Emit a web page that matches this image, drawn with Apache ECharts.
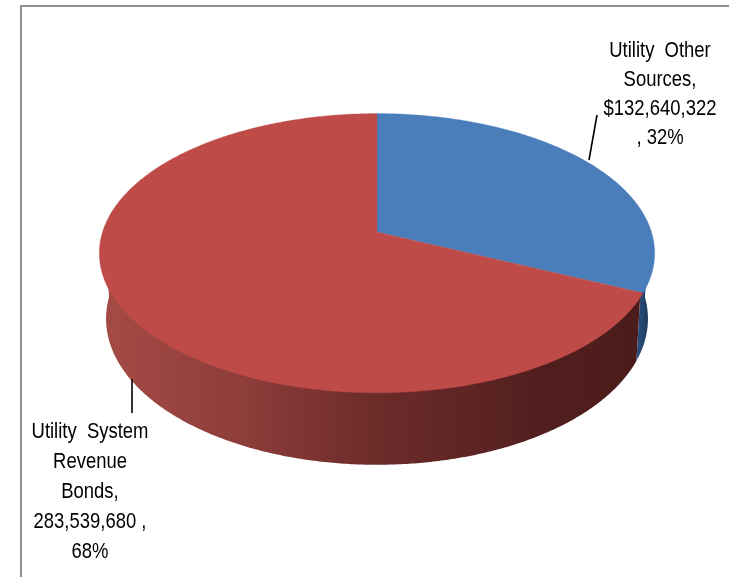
<!DOCTYPE html>
<html>
<head>
<meta charset="utf-8">
<title>Utility Funding Sources</title>
<script src="https://cdn.jsdelivr.net/npm/echarts@6/dist/echarts.min.js"></script>
<style>
  html, body { margin: 0; padding: 0; background: #ffffff; }
  #chart { width: 729px; height: 577px; }
</style>
</head>
<body>
<div id="chart"></div>
<script>
// Funding sources (slices run clockwise from 12 o'clock)
const categories = ['Utility Other Sources', 'Utility System Revenue Bonds'];
const values = [132640322, 283539680];

// Label text pieces per slice (name split where it wraps)
const nameLines = [['Utility  Other', 'Sources,'], ['Utility  System', 'Revenue', 'Bonds,']];
const valuePrefix = ['$', ''];

const topColors = ['#4A7EBB', '#BE4B48'];
const sideStops = [
  [{ offset: 0, color: '#2C5283' }, { offset: 1, color: '#1A324F' }],
  [{ offset: 0, color: '#A64B46' }, { offset: 0.27, color: '#8C3C39' }, { offset: 0.5, color: '#6C2C2A' },
   { offset: 0.8, color: '#521F1E' }, { offset: 1, color: '#4A1B1A' }]
];

// Label placement (text block centre/top, leader line ends)
const labelLayout = [
  { x: 660, y: 36, lineHeight: 29, leader: [[589, 160], [597, 115]] },
  { x: 90, y: 417, lineHeight: 30, leader: [[132, 379], [132, 413]] }
];

const total = values.reduce((a, b) => a + b, 0);
const fmt = v => v.toLocaleString('en-US');
const pct = v => Math.round(v / total * 100) + '%';

function labelText(i) {
  const v = values[i];
  if (i === 0) {
    return nameLines[i].concat([valuePrefix[i] + fmt(v), ', ' + pct(v)]).join('\n');
  }
  return nameLines[i].concat([valuePrefix[i] + fmt(v) + ' ,', pct(v)]).join('\n');
}

function sliceRange(i) {
  let before = 0;
  for (let k = 0; k < i; k++) before += values[k];
  return [before / total * 2 * Math.PI, (before + values[i]) / total * 2 * Math.PI];
}

// Perspective view of a tilted disc (unit radius)
const VIEW = { cx: 377, cy: 232, F: 1570, d: 5.72, sinT: 0.497, cosT: 0.868, depth: 0.28 };
function project(theta, y, r) {
  const rad = r === undefined ? 1 : r;
  const u = rad * Math.sin(theta);
  const v = y * VIEW.cosT + rad * Math.cos(theta) * VIEW.sinT;
  const w = VIEW.d - y * VIEW.sinT + rad * Math.cos(theta) * VIEW.cosT;
  return [VIEW.cx + VIEW.F * u / w, VIEW.cy - VIEW.F * v / w];
}
function arc(a0, a1, y, r) {
  const n = Math.max(2, Math.ceil((a1 - a0) / (Math.PI / 360)));
  const pts = [];
  for (let k = 0; k <= n; k++) pts.push(project(a0 + (a1 - a0) * k / n, y, r));
  return pts;
}

const chart = echarts.init(document.getElementById('chart'), null, { renderer: 'canvas' });

const seriesData = values.map((v, i) => ({ name: categories[i], value: v }));

chart.setOption({
  animation: false,
  backgroundColor: '#ffffff',
  graphic: [{
    type: 'polyline',
    shape: { points: [[729, 6], [21, 6], [21, 577]] },
    style: { stroke: '#8E8E8E', lineWidth: 2, fill: null },
    z: 0
  }],
  series: [
    {
      // side walls (top edge tucked slightly under the top face)
      type: 'custom',
      coordinateSystem: 'none',
      z: 1,
      data: seriesData,
      renderItem(params, api) {
        const i = params.dataIndex;
        let [a0, a1] = sliceRange(i);
        a0 = Math.max(a0, Math.PI / 2);
        a1 = Math.min(a1, 3 * Math.PI / 2);
        if (a1 <= a0) return { type: 'group', children: [] };
        const top = arc(a0, a1, 0.01, 0.99);
        const bottom = arc(a0, a1, -VIEW.depth).reverse();
        const gx0 = i === 1 ? 99 : Math.min.apply(null, top.concat(bottom).map(p => p[0]));
        const gx1 = i === 1 ? 650 : Math.max.apply(null, top.concat(bottom).map(p => p[0]));
        return {
          type: 'polygon',
          shape: { points: top.concat(bottom) },
          style: {
            fill: new echarts.graphic.LinearGradient(gx0, 0, gx1, 0, sideStops[i], true),
            stroke: null
          }
        };
      }
    },
    {
      // top faces, leader lines and labels
      type: 'custom',
      coordinateSystem: 'none',
      z: 2,
      data: seriesData,
      renderItem(params, api) {
        const i = params.dataIndex;
        const [a0, a1] = sliceRange(i);
        const pts = [project(0, 0, 0)].concat(arc(a0, a1, 0));
        const lay = labelLayout[i];
        return {
          type: 'group',
          children: [
            {
              type: 'polygon',
              shape: { points: pts },
              style: { fill: topColors[i], stroke: topColors[i], lineWidth: 0.3 }
            },
            {
              type: 'polyline',
              shape: { points: lay.leader },
              style: { stroke: '#000000', lineWidth: 1.6, fill: null }
            },
            {
              type: 'text',
              x: lay.x,
              y: lay.y,
              scaleX: 0.82,
              style: {
                text: labelText(i),
                fill: '#000000',
                font: '22.5px "Liberation Sans", Arial, sans-serif',
                align: 'center',
                verticalAlign: 'top',
                lineHeight: lay.lineHeight
              }
            }
          ]
        };
      }
    }
  ]
});
</script>
</body>
</html>
